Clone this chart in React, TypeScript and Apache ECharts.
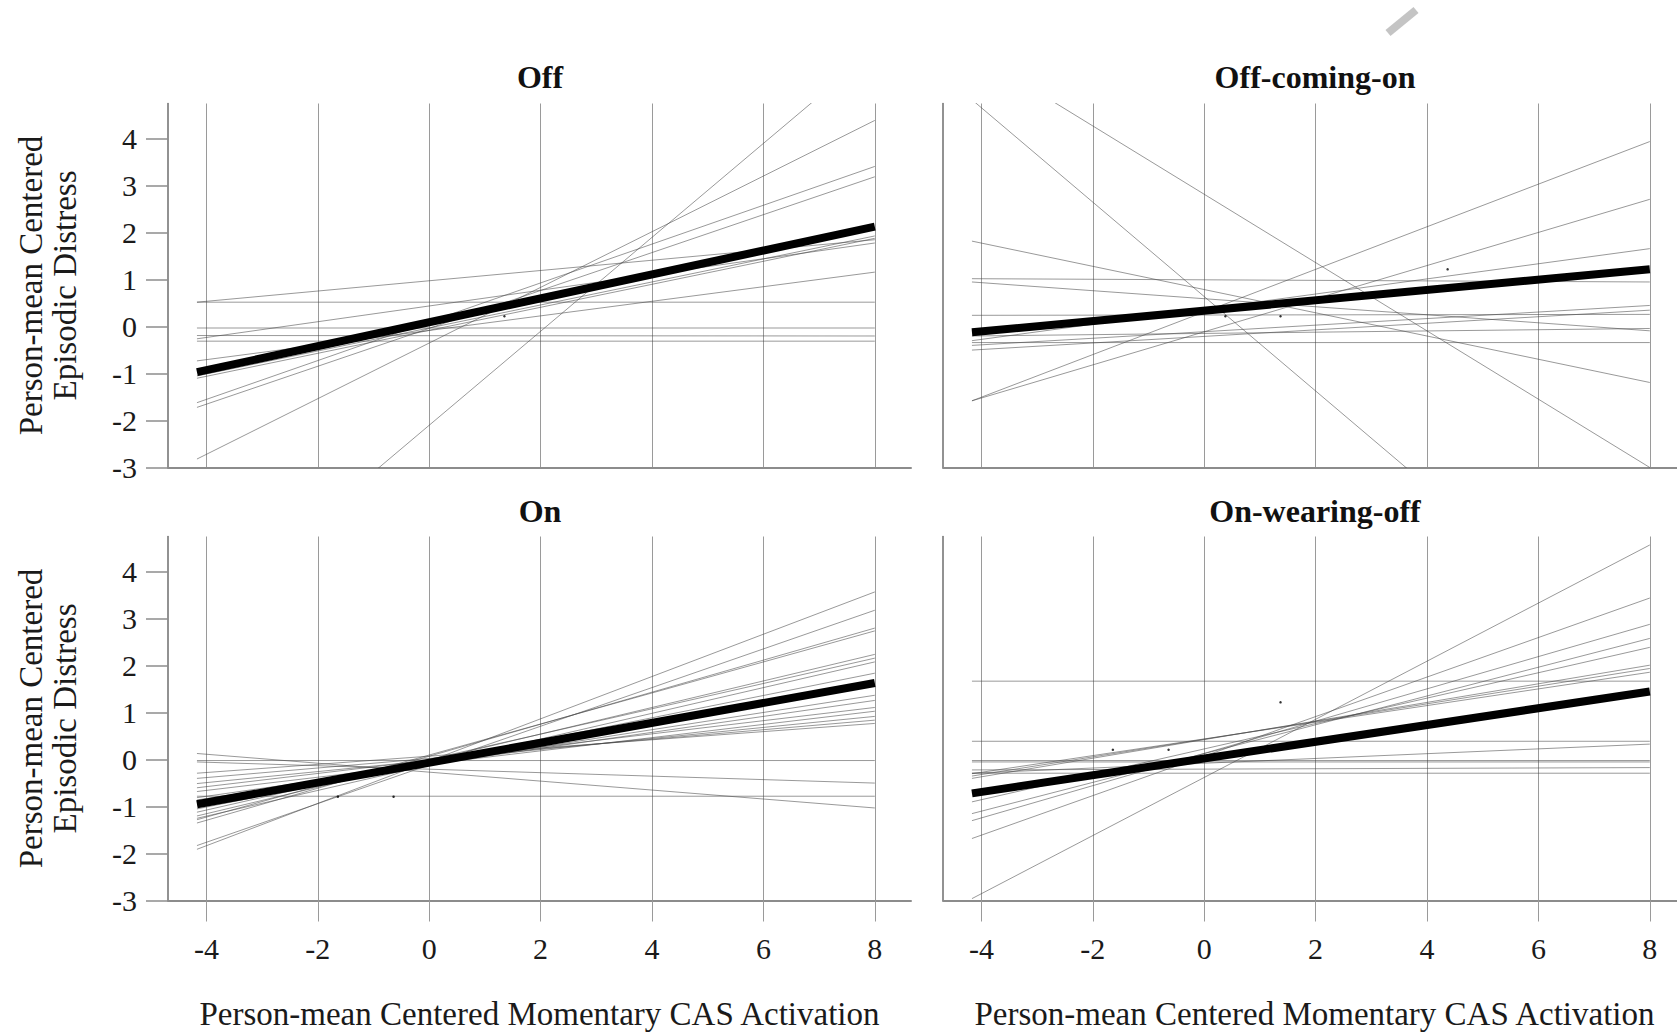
import React, { useEffect, useRef } from "react";
import * as echarts from "echarts";

// ---------- data ----------
const panelTitles = ["Off", "Off-coming-on", "On", "On-wearing-off"];
const xTicks = [-4, -2, 0, 2, 4, 6, 8];
const yTicks = [-3, -2, -1, 0, 1, 2, 3, 4];
const xRange = [-4.69, 8.65];
const yRange = [-3, 4.75];
const lineX = [-4.17, 8];
const xAxisTitle = "Person-mean Centered Momentary CAS Activation";
const yAxisTitle = "Person-mean Centered\nEpisodic Distress";

// person-level lines: [value at left end, value at right end]
const offPersons = [
  [0.52, 0.52], [0.52, 1.85], [-0.03, -0.03], [-0.19, -0.2], [-0.31, -0.31],
  [-0.26, 1.78], [-0.73, 1.16], [-1.05, 1.93], [-1.1, 1.88], [-1.62, 3.41],
  [-1.72, 3.19], [-2.82, 4.39], [-6.27, 5.9],
];
const offMean = [-0.97, 2.13];
const offDots = [[1.35, 0.22]];

const offComingOnPersons = [
  [4.83, -7.4], [5.85, -3.0], [1.82, -1.19], [1.02, 0.95], [0.95, -0.09],
  [0.24, 0.26], [-0.3, 1.66], [-0.4, 0.45], [-0.5, 0.35], [-0.34, -0.34],
  [-0.2, -0.04], [-1.58, 3.94], [-1.58, 2.71],
];
const offComingOnMean = [-0.12, 1.22];
const offComingOnDots = [[0.38, 0.22], [1.37, 0.22], [4.37, 1.22]];

const onPersons = [
  [-1.91, 3.57], [-1.83, 3.18], [-1.35, 2.8], [-1.28, 2.74], [-1.2, 2.24],
  [-1.12, 2.16], [-1.25, 2.08], [-1.05, 1.84], [-0.86, 1.37], [-0.81, 1.26],
  [-0.6, 1.11], [-0.68, 1.03], [-0.51, 0.92], [-0.4, 0.84], [-0.29, 0.77],
  [-0.02, -0.02], [-0.05, -0.5], [-0.78, -0.78], [0.13, -1.03],
];
const onMean = [-0.95, 1.63];
const onDots = [[-1.64, -0.79], [-0.64, -0.79]];

const onWearingOffPersons = [
  [-2.96, 4.57], [-1.68, 3.44], [-1.3, 2.88], [-1.15, 2.58], [-0.9, 2.39],
  [-0.4, 2.01], [-0.35, 1.94], [-0.3, 1.86], [1.67, 1.67], [0.39, 0.39],
  [-0.29, 0.33], [-0.02, -0.02], [-0.05, -0.05], [-0.22, -0.17], [-0.29, -0.29],
];
const onWearingOffMean = [-0.72, 1.45];
const onWearingOffDots = [[-1.64, 0.21], [-0.64, 0.21], [1.37, 1.22]];

const panels = [
  { persons: offPersons, mean: offMean, dots: offDots },
  { persons: offComingOnPersons, mean: offComingOnMean, dots: offComingOnDots },
  { persons: onPersons, mean: onMean, dots: onDots },
  { persons: onWearingOffPersons, mean: onWearingOffMean, dots: onWearingOffDots },
];

// ---------- layout / style ----------
const FONT = "'Liberation Serif', 'Times New Roman', Times, serif";
const GRID_W = 743;
const GRID_H = 364;
const gridLeft = [168, 943, 168, 943];
const gridTop = [103.5, 103.5, 536.5, 536.5];
const titlePos = [[540, 77], [1315, 77], [540, 511], [1315, 511]];

function buildOption() {
  const span = xRange[1] - xRange[0];
  const tickLeftOffset = ((xTicks[0] - xRange[0]) / span) * GRID_W;
  const tickWidth = ((xTicks[xTicks.length - 1] - xTicks[0]) / span) * GRID_W;

  const grid: any[] = [];
  const xAxis: any[] = [];
  const yAxis: any[] = [];
  const series: any[] = [];

  for (let p = 0; p < 4; p++) {
    grid.push({
      left: gridLeft[p], top: gridTop[p], width: GRID_W, height: GRID_H,
      containLabel: false, outerBoundsMode: "none",
    });
  }
  for (let p = 0; p < 4; p++) {
    grid.push({
      left: gridLeft[p] + tickLeftOffset, top: gridTop[p], width: tickWidth, height: GRID_H,
      containLabel: false, outerBoundsMode: "none",
    });
  }

  for (let p = 0; p < 4; p++) {
    const bottom = p >= 2;
    const leftCol = p % 2 === 0;
    xAxis.push({
      type: "value",
      gridIndex: p,
      min: xRange[0],
      max: xRange[1],
      axisLine: { show: true, onZero: false, lineStyle: { color: "#8c8c8c", width: 2 } },
      axisTick: { show: false },
      axisLabel: { show: false },
      splitLine: { show: false },
      name: bottom ? xAxisTitle : "",
      nameLocation: "middle",
      nameGap: 97,
      nameTextStyle: { fontFamily: FONT, fontSize: 33, color: "#1a1a1a" },
    });
    yAxis.push({
      type: "value",
      gridIndex: p,
      min: yRange[0],
      max: yRange[1],
      interval: 1,
      axisLine: { show: true, onZero: false, lineStyle: { color: "#6e6e6e", width: 1.5 } },
      axisTick: { show: leftCol, length: 22, customValues: yTicks, lineStyle: { color: "#8c8c8c", width: 1.5 } },
      axisLabel: {
        show: leftCol,
        customValues: yTicks,
        fontFamily: FONT,
        fontSize: 30,
        color: "#1a1a1a",
        margin: 31,
      },
      splitLine: { show: false },
      name: leftCol ? yAxisTitle : "",
      nameLocation: "middle",
      nameGap: 86,
      nameTextStyle: { fontFamily: FONT, fontSize: 33, lineHeight: 34, color: "#1a1a1a" },
    });
  }
  for (let p = 0; p < 4; p++) {
    const bottom = p >= 2;
    xAxis.push({
      type: "value",
      gridIndex: p + 4,
      min: xTicks[0],
      max: xTicks[xTicks.length - 1],
      interval: 2,
      axisLine: { show: false, onZero: false },
      axisTick: { show: bottom, length: 21, lineStyle: { color: "#9a9a9a", width: 1 } },
      axisLabel: { show: bottom, fontFamily: FONT, fontSize: 30, color: "#1a1a1a", margin: 33 },
      splitLine: { show: true, lineStyle: { color: "#9a9a9a", width: 1 } },
    });
    yAxis.push({
      type: "value",
      gridIndex: p + 4,
      min: yRange[0],
      max: yRange[1],
      show: false,
      splitLine: { show: false },
    });
  }

  panels.forEach((panel, p) => {
    panel.persons.forEach((pl, i) => {
      series.push({
        type: "line",
        name: panelTitles[p] + " person " + (i + 1),
        xAxisIndex: p,
        yAxisIndex: p,
        data: [[lineX[0], pl[0]], [lineX[1], pl[1]]],
        symbol: "none",
        clip: true,
        silent: true,
        z: 2,
        lineStyle: { color: "rgba(70,70,70,0.55)", width: 1 },
      });
    });
    series.push({
      type: "line",
      name: panelTitles[p] + " mean",
      xAxisIndex: p,
      yAxisIndex: p,
      data: [[lineX[0], panel.mean[0]], [lineX[1], panel.mean[1]]],
      symbol: "none",
      clip: true,
      silent: true,
      z: 4,
      lineStyle: { color: "#000", width: 8 },
    });
    series.push({
      type: "scatter",
      name: panelTitles[p] + " points",
      xAxisIndex: p,
      yAxisIndex: p,
      data: panel.dots,
      symbolSize: 2.5,
      silent: true,
      z: 3,
      itemStyle: { color: "#000" },
    });
  });

  const graphic: any[] = panelTitles.map((t, p) => ({
    type: "text",
    x: titlePos[p][0],
    y: titlePos[p][1],
    style: {
      text: t,
      font: `bold 32px ${FONT}`,
      fill: "#111",
      align: "center",
      verticalAlign: "middle",
    },
  }));
  graphic.push({
    type: "polygon",
    shape: { points: [[1385.5, 29.9], [1413.5, 6.9], [1418.5, 13.1], [1390.5, 36.1]] },
    style: { fill: "#c4c4c4" },
  });

  return {
    animation: false,
    backgroundColor: "#fff",
    grid,
    xAxis,
    yAxis,
    series,
    graphic,
  };
}

export default function App() {
  const ref = useRef<HTMLDivElement>(null);
  useEffect(() => {
    if (!ref.current) return;
    const chart = echarts.init(ref.current, undefined, { renderer: "svg" });
    chart.setOption(buildOption() as any);
    return () => chart.dispose();
  }, []);
  return <div ref={ref} style={{ width: 1677, height: 1034, position: "absolute", left: 0, top: 0 }} />;
}
